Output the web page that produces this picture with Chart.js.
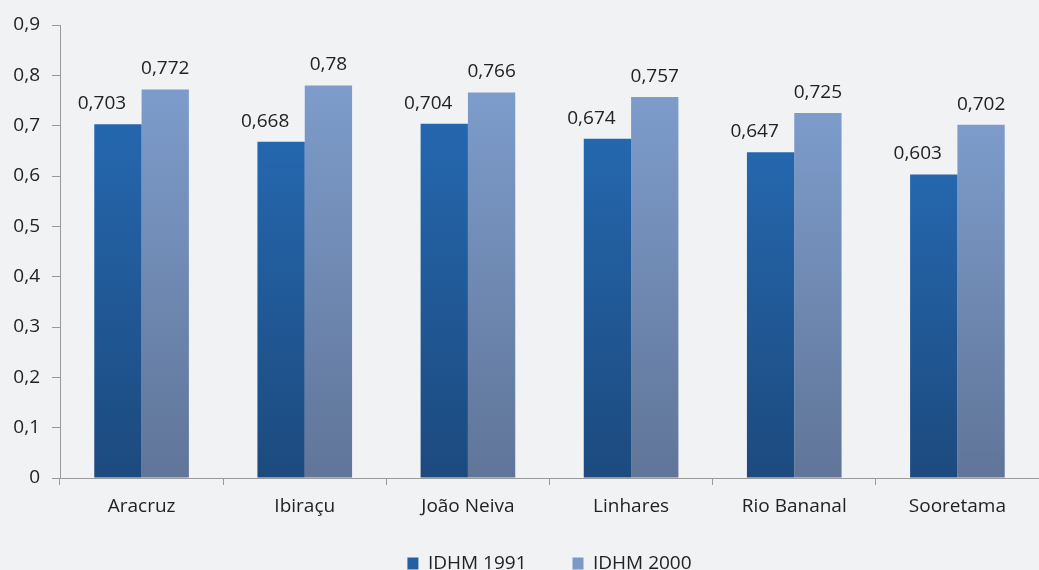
<!DOCTYPE html>
<html>
<head>
<meta charset="utf-8">
<style>
  html, body { margin: 0; padding: 0; background: #f1f2f4; overflow: hidden; }
  #wrap { width: 1039px; height: 593px; }
</style>
<script src="https://cdn.jsdelivr.net/npm/chart.js@4/dist/chart.umd.min.js"></script>
</head>
<body>
<div id="wrap"><canvas id="bar-chart"></canvas></div>
<script>
const municipios = ['Aracruz', 'Ibiraçu', 'João Neiva', 'Linhares', 'Rio Bananal', 'Sooretama'];
const idhm1991 = [0.703, 0.668, 0.704, 0.674, 0.647, 0.603];
const idhm2000 = [0.772, 0.78, 0.766, 0.757, 0.725, 0.702];
const yTicks = [0, 0.1, 0.2, 0.3, 0.4, 0.5, 0.6, 0.7, 0.8, 0.9];

function comma(v, d) {
  if (v === 0) return '0';
  return v.toFixed(d).replace('.', ',');
}

// gradient per bar, from its top down to zero
function barGradient(top, bottom) {
  return function (ctx) {
    const chart = ctx.chart;
    if (!chart.chartArea || ctx.parsed === undefined) return top;
    const y = chart.scales.y;
    const y0 = y.getPixelForValue(ctx.parsed.y);
    const y1 = y.getPixelForValue(0);
    const g = chart.ctx.createLinearGradient(0, y0, 0, y1);
    g.addColorStop(0, top);
    g.addColorStop(1, bottom);
    return g;
  };
}

const legendColors = ['#2360a3', '#7b99c8'];
const labelShift = [-16, 0]; // the 1991 labels sit a bit to the left

const valueLabels = {
  id: 'valueLabels',
  afterDatasetsDraw(chart) {
    const ctx = chart.ctx;
    ctx.save();
    ctx.font = '19px "Open Sans"';
    ctx.fillStyle = '#222';
    ctx.textAlign = 'center';
    ctx.textBaseline = 'alphabetic';
    chart.data.datasets.forEach((ds, i) => {
      chart.getDatasetMeta(i).data.forEach((bar, j) => {
        ctx.fillText(String(ds.data[j]).replace('.', ','), bar.x + labelShift[i], bar.y - 15);
      });
    });
    ctx.restore();
  }
};

// legend padding is large for the gap between items, so pull it up a little
const legendNudge = {
  id: 'legendNudge',
  afterLayout(chart) {
    chart.legend.top -= 10;
    chart.legend.bottom -= 10;
  }
};

Chart.defaults.font.family = '"Open Sans"';
Chart.defaults.color = '#222';

new Chart(document.getElementById('bar-chart'), {
  type: 'bar',
  data: {
    labels: municipios,
    datasets: [
      {
        label: 'IDHM 1991',
        data: idhm1991,
        backgroundColor: barGradient('#2567ae', '#1c4a7e')
      },
      {
        label: 'IDHM 2000',
        data: idhm2000,
        backgroundColor: barGradient('#7d9ccb', '#607598')
      }
    ]
  },
  options: {
    responsive: true,
    maintainAspectRatio: false,
    animation: false,
    layout: { padding: { top: 25, right: 0, left: 0, bottom: 0 } },
    datasets: { bar: { categoryPercentage: 0.58, barPercentage: 1 } },
    scales: {
      x: {
        afterFit(s) { s.height = 40; },
        grid: { display: true, drawOnChartArea: false, offset: true, color: '#9a9a9a', tickLength: 7 },
        border: { color: '#9a9a9a' },
        ticks: { font: { size: 19 }, padding: 10, color: '#222' }
      },
      y: {
        min: 0,
        max: 0.9,
        afterFit(s) { s.width = 60; },
        afterBuildTicks(s) { s.ticks = yTicks.map(v => ({ value: v })); },
        grid: { display: true, drawOnChartArea: false, color: '#9a9a9a', tickLength: 8 },
        border: { color: '#9a9a9a' },
        ticks: { font: { size: 19 }, padding: 12, color: '#222', callback: v => comma(v, 1) }
      }
    },
    plugins: {
      legend: {
        position: 'bottom',
        fullSize: false,
        labels: {
          font: { size: 19 }, boxWidth: 11, boxHeight: 12, padding: 46, color: '#222',
          generateLabels(chart) {
            return chart.data.datasets.map((ds, i) => ({
              text: ds.label,
              fillStyle: legendColors[i],
              strokeStyle: legendColors[i],
              lineWidth: 0,
              fontColor: '#222',
              datasetIndex: i
            }));
          }
        }
      },
      tooltip: { enabled: false }
    }
  },
  plugins: [valueLabels, legendNudge]
});
</script>
</body>
</html>
